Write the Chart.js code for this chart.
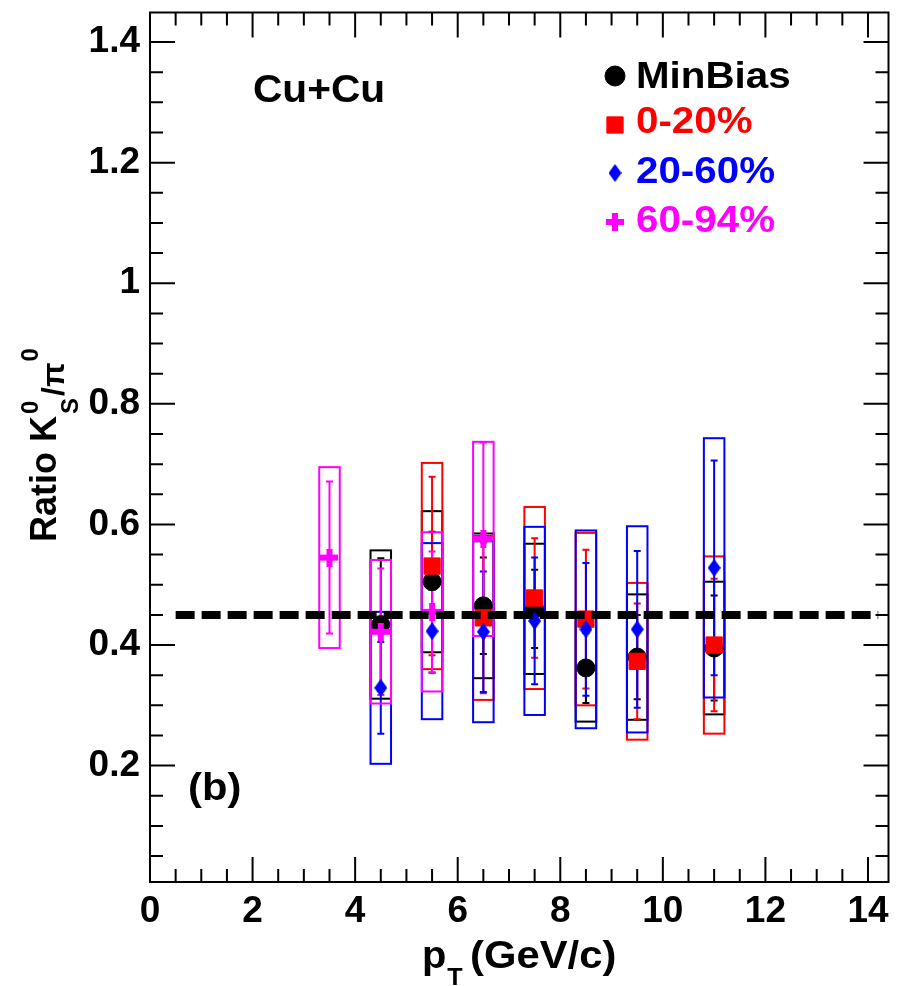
<!DOCTYPE html>
<html>
<head>
<meta charset="utf-8">
<script src="https://cdn.jsdelivr.net/npm/chart.js@4.4.1/dist/chart.umd.min.js"></script>
<style>
html, body { margin: 0; padding: 0; background: #fff; }
#wrap { width: 901px; height: 986px; }
</style>
</head>
<body>
<div id="wrap"><canvas id="ratioChart" width="901" height="986"></canvas></div>
<script>
// --- DATA ---
const ptBins = [3.5, 4.5, 5.5, 6.5, 7.5, 8.5, 9.5, 11];

const minBiasVal  = [null, 0.434, 0.505, 0.465, 0.460, 0.362, 0.380, 0.395];
const minBiasStat = [null, 0.110, 0.083, 0.080, 0.065, 0.058, 0.070, 0.087];
const minBiasSys  = [null, 0.123, 0.117, 0.120, 0.108, 0.089, 0.104, 0.110];

const cent0020Val  = [null, null, 0.531, 0.445, 0.478, 0.443, 0.373, 0.400];
const cent0020Stat = [null, null, 0.148, 0.125, 0.099, 0.115, 0.096, 0.110];
const cent0020Sys  = [null, null, 0.171, 0.136, 0.151, 0.143, 0.130, 0.147];

const cent2060Val  = [null, 0.329, 0.423, 0.422, 0.440, 0.426, 0.426, 0.528];
const cent2060Stat = [null, 0.076, 0.069, 0.100, 0.105, 0.110, 0.130, 0.178];
const cent2060Sys  = [null, 0.126, 0.146, 0.150, 0.156, 0.164, 0.171, 0.215];

const cent6094Val  = [0.545, 0.422, 0.455, 0.576, null, null, null, null];
const cent6094Stat = [0.126, 0.105, 0.100, 0.160, null, null, null, null];
const cent6094Sys  = [0.150, 0.119, 0.132, 0.161, null, null, null, null];

const xTicks = [0, 2, 4, 6, 8, 10, 12, 14];
const yTicks = [0.2, 0.4, 0.6, 0.8, 1.0, 1.2, 1.4];
const refLineX = [0.5, 14.2];
const refLineY = [0.45, 0.45];

// --- MARKERS ---
function diamondImg(color, w, h) {
    const c = document.createElement('canvas');
    c.width = w; c.height = h;
    const g = c.getContext('2d');
    g.fillStyle = color;
    g.beginPath();
    g.moveTo(w / 2, 0); g.lineTo(w, h / 2); g.lineTo(w / 2, h); g.lineTo(0, h / 2);
    g.closePath();
    g.fill();
    return c;
}
function plusImg(color, size, thick) {
    const c = document.createElement('canvas');
    c.width = size; c.height = size;
    const g = c.getContext('2d');
    g.fillStyle = color;
    g.fillRect(0, (size - thick) / 2, size, thick);
    g.fillRect((size - thick) / 2, 0, thick, size);
    return c;
}

const FONT = '"Liberation Sans", Arial, Helvetica, sans-serif';

const series = [
    { label: 'MinBias', color: '#000000', val: minBiasVal, stat: minBiasStat, sys: minBiasSys,
      style: 'circle', radius: 9 },
    { label: '0-20%', color: '#ff0000', val: cent0020Val, stat: cent0020Stat, sys: cent0020Sys,
      style: 'rect', radius: 11.5 },
    { label: '20-60%', color: '#0000ff', val: cent2060Val, stat: cent2060Stat, sys: cent2060Sys,
      style: diamondImg('#0000ff', 13, 18), radius: 9 },
    { label: '60-94%', color: '#ff00ff', val: cent6094Val, stat: cent6094Stat, sys: cent6094Sys,
      style: plusImg('#ff00ff', 18, 6), radius: 9 }
];

function toPoints(vals) {
    const pts = [];
    vals.forEach((v, i) => { if (v !== null) pts.push({ x: ptBins[i], y: v }); });
    return pts;
}

const datasets = [{
    type: 'line',
    data: refLineX.map((x, i) => ({ x: x, y: refLineY[i] })),
    borderColor: '#000',
    borderWidth: 8,
    borderDash: [19, 7],
    pointRadius: 0,
    order: 0
}];
series.slice().reverse().forEach((s, k) => {
    datasets.push({
        type: 'scatter',
        data: toPoints(s.val),
        pointStyle: s.style,
        pointRadius: s.radius,
        backgroundColor: s.color,
        borderColor: s.color,
        borderWidth: 1,
        order: k + 1
    });
});

// --- BOXES, ERROR BARS, FRAME, TEXT ---
const BOX_HALF = 0.2;

const errorPlugin = {
    id: 'errorBoxes',
    beforeDatasetsDraw(chart) {
        const ctx = chart.ctx;
        const xs = chart.scales.x, ys = chart.scales.y;
        ctx.save();
        ctx.lineWidth = 2;
        series.forEach(s => {
            ctx.strokeStyle = s.color;
            s.val.forEach((v, i) => {
                if (v === null) return;
                const px = xs.getPixelForValue(ptBins[i]);
                const hw = xs.getPixelForValue(ptBins[i] + BOX_HALF) - px;
                const top = ys.getPixelForValue(v + s.sys[i]);
                const bot = ys.getPixelForValue(v - s.sys[i]);
                ctx.strokeRect(px - hw, top, 2 * hw, bot - top);
                const st = ys.getPixelForValue(v + s.stat[i]);
                const sb = ys.getPixelForValue(v - s.stat[i]);
                ctx.beginPath();
                ctx.moveTo(px, st); ctx.lineTo(px, sb);
                ctx.moveTo(px - 3.5, st); ctx.lineTo(px + 3.5, st);
                ctx.moveTo(px - 3.5, sb); ctx.lineTo(px + 3.5, sb);
                ctx.stroke();
            });
        });
        ctx.restore();
    },
    afterDraw(chart) {
        const ctx = chart.ctx;
        const a = chart.chartArea;
        const xs = chart.scales.x, ys = chart.scales.y;
        ctx.save();
        ctx.strokeStyle = '#000';
        ctx.lineWidth = 2;
        ctx.strokeRect(a.left, a.top, a.right - a.left, a.bottom - a.top);
        ctx.beginPath();
        for (let k = 1; k * 0.5 < xs.max; k++) {
            const v = k * 0.5;
            const len = (k % 4 === 0) ? 25 : 13;
            const p = xs.getPixelForValue(v);
            ctx.moveTo(p, a.bottom); ctx.lineTo(p, a.bottom - len);
            ctx.moveTo(p, a.top); ctx.lineTo(p, a.top + len);
        }
        for (let k = 1; k * 0.05 < ys.max; k++) {
            const v = k * 0.05;
            if (v <= ys.min) continue;
            const len = (k % 4 === 0) ? 25 : 13;
            const p = ys.getPixelForValue(v);
            ctx.moveTo(a.left, p); ctx.lineTo(a.left + len, p);
            ctx.moveTo(a.right, p); ctx.lineTo(a.right - len, p);
        }
        ctx.stroke();

        const txt = (t, x, y, size, color, sx) => {
            ctx.save();
            ctx.translate(x, y);
            ctx.scale(sx, 1);
            ctx.font = 'bold ' + size + 'px ' + FONT;
            ctx.fillStyle = color;
            ctx.textAlign = 'left';
            ctx.textBaseline = 'alphabetic';
            ctx.fillText(t, 0, 0);
            const w = ctx.measureText(t).width * sx;
            ctx.restore();
            return w;
        };

        txt('Cu+Cu', 253, 102, 38, '#000', 1.07);
        txt('(b)', 188, 800, 38, '#000', 1.1);

        // legend
        const legY = [76, 125, 173, 222];
        const legTextY = [88, 133, 183, 232];
        series.forEach((s, i) => {
            ctx.fillStyle = s.color;
            ctx.strokeStyle = s.color;
            ctx.lineWidth = 1;
            Chart.helpers.drawPoint(ctx, { pointStyle: s.style, radius: s.style === 'circle' ? 10 : s.radius, rotation: 0, borderWidth: 1 }, 615, legY[i]);
            txt(s.label, 636, legTextY[i], 37, s.color, 1.09);
        });

        // x title
        let xp = 422;
        xp += txt('p', xp, 968, 38, '#000', 1.05);
        txt('T', xp + 1, 985, 24, '#000', 1.05);
        txt('(GeV/c)', 470, 968, 38, '#000', 1.1);

        // y title
        ctx.save();
        ctx.translate(56, 542);
        ctx.rotate(-Math.PI / 2);
        let yp = 0;
        yp += txt('Ratio K', 0, 0, 36, '#000', 1.0);
        const w0 = txt('0', yp + 2, -18, 24, '#000', 1.0);
        const wS = txt('S', yp + 2, 22, 24, '#000', 1.0);
        yp += Math.max(w0, wS) + 4;
        yp += txt('/\u03c0', yp, 8, 32, '#000', 1.0);
        txt('0', yp + 1, -18, 24, '#000', 1.0);
        ctx.restore();

        ctx.restore();
    }
};

const chartCtx = document.getElementById('ratioChart').getContext('2d');
new Chart(chartCtx, {
    type: 'scatter',
    data: { datasets: datasets },
    options: {
        responsive: false,
        animation: false,
        layout: { padding: { top: 10, right: 11, left: 0, bottom: 0 } },
        plugins: { legend: { display: false }, tooltip: { enabled: false } },
        scales: {
            x: {
                type: 'linear', min: 0, max: 14.4,
                afterFit: s => { s.height = 104; s.paddingLeft = 0; s.paddingRight = 0; },
                afterBuildTicks: s => { s.ticks = xTicks.map(v => ({ value: v })); },
                grid: { display: false, drawTicks: false },
                border: { display: false },
                ticks: { color: '#000', padding: 8, maxRotation: 0, autoSkip: false,
                         font: { family: FONT, size: 37, weight: 'bold' } }
            },
            y: {
                type: 'linear', min: 0.007, max: 1.449,
                afterFit: s => { s.width = 150; s.paddingTop = 0; s.paddingBottom = 0; },
                afterBuildTicks: s => { s.ticks = yTicks.map(v => ({ value: v })); },
                grid: { display: false, drawTicks: false },
                border: { display: false },
                ticks: { color: '#000', padding: 10, autoSkip: false,
                         callback: v => String(+v.toFixed(1)),
                         font: { family: FONT, size: 37, weight: 'bold' } }
            }
        }
    },
    plugins: [errorPlugin]
});
</script>
</body>
</html>
